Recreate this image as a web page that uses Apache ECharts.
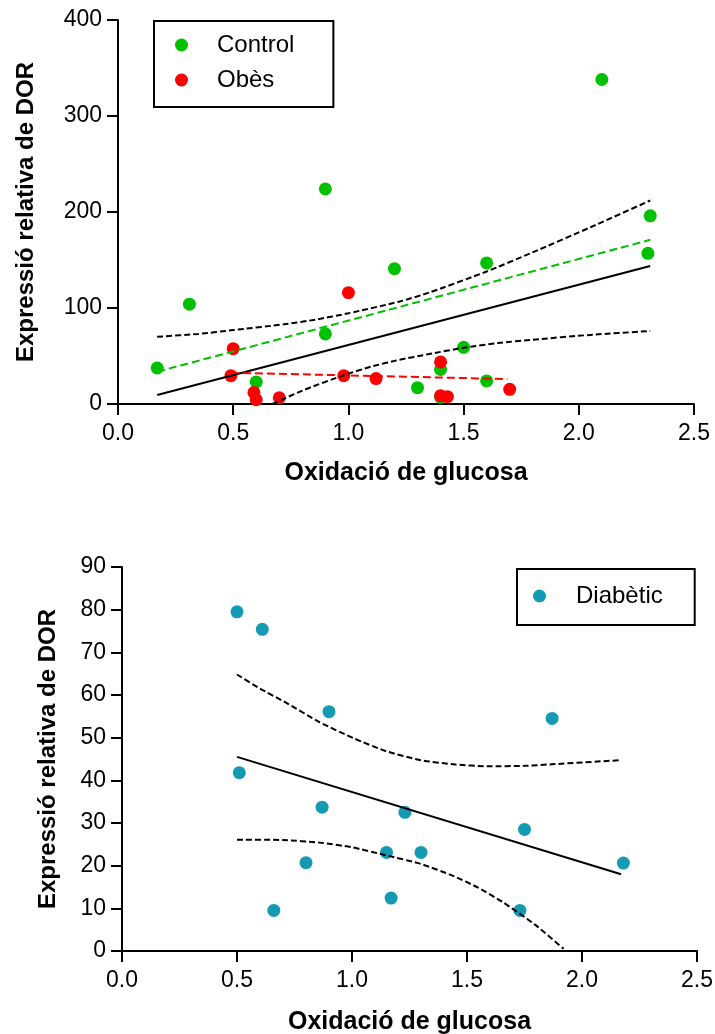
<!DOCTYPE html>
<html>
<head>
<meta charset="utf-8">
<script src="https://cdn.jsdelivr.net/npm/echarts@6/dist/echarts.min.js"></script>
<style>html,body{margin:0;padding:0;background:#fff}#c{width:715px;height:1034px}</style>
</head>
<body>
<div id="c"></div>
<script>
// ---- Top panel data ----
const ctrlX = [0.17, 0.31, 0.60, 0.90, 0.90, 1.20, 1.30, 1.40, 1.40, 1.50, 1.60, 1.60, 2.10, 2.30, 2.31];
const ctrlY = [37.5, 104, 23, 73, 224, 141, 17, 36, 7, 59, 147, 24, 338, 157, 196];
const obX = [0.49, 0.50, 0.59, 0.60, 0.70, 0.98, 1.00, 1.12, 1.40, 1.40, 1.43, 1.70];
const obY = [29.5, 57.6, 12, 4.5, 6.5, 29.5, 116, 26.5, 43.8, 8.7, 7.6, 15.3];
const allFitX = [0.17, 2.31];
const allFitY = [9.4, 143.8];
const ctrlFitX = [0.17, 2.31];
const ctrlFitY = [33.6, 171];
const obFitX = [0.49, 1.69];
const obFitY = [32.6, 26];
const topUpX = [0.17, 0.35, 0.5, 0.72, 0.86, 1.0, 1.22, 1.35, 1.6, 1.8, 2.05, 2.31];
const topUpY = [70, 73, 77, 83, 88, 94.5, 106.6, 116, 138, 158, 184, 212];
const topLoX = [0.67, 0.8, 0.98, 1.1, 1.22, 1.35, 1.5, 1.65, 1.8, 2.05, 2.31];
const topLoY = [0, 14, 30, 39, 46, 52, 58.6, 63.5, 67, 72, 76];
const topYTicks = [0, 100, 200, 300, 400];

// ---- Bottom panel data ----
const diabX = [0.50, 0.51, 0.61, 0.66, 0.80, 0.87, 0.90, 1.15, 1.17, 1.23, 1.30, 1.73, 1.75, 1.87, 2.18];
const diabY = [79.5, 41.8, 75.4, 9.5, 20.7, 33.7, 56.1, 23.1, 12.4, 32.5, 23.1, 9.5, 28.5, 54.5, 20.6];
const diabFitX = [0.50, 2.17];
const diabFitY = [45.5, 18.0];
const botUpX = [0.50, 0.60, 0.72, 0.86, 1.01, 1.15, 1.30, 1.45, 1.59, 1.75, 1.88, 2.16];
const botUpY = [64.8, 61.5, 58.0, 53.6, 49.8, 46.8, 44.7, 43.7, 43.3, 43.4, 43.8, 44.7];
const botLoX = [0.50, 0.70, 0.86, 1.00, 1.15, 1.30, 1.44, 1.55, 1.66, 1.80, 1.92];
const botLoY = [26.1, 26.0, 25.4, 24.3, 22.4, 20.4, 17.6, 14.8, 11.3, 6.0, 0.5];
const botYTicks = [0, 10, 20, 30, 40, 50, 60, 70, 80, 90];

const xTicks = [0, 0.5, 1.0, 1.5, 2.0, 2.5];

const pairs = (xs, ys) => xs.map((x, i) => [x, ys[i]]);
const FONT = 'Liberation Sans, Arial, sans-serif';

function xAxisCfg(gi, gap) {
  return {
    type: 'value', gridIndex: gi,
    min: xTicks[0], max: xTicks[xTicks.length - 1], interval: 0.5,
    name: 'Oxidació de glucosa', nameLocation: 'middle', nameGap: gap,
    nameTextStyle: { fontFamily: FONT, fontSize: 25, fontWeight: 'bold', color: '#000' },
    axisLine: { show: true, onZero: false, lineStyle: { color: '#000', width: 2 } },
    axisTick: { show: true, inside: false, length: 11, lineStyle: { color: '#000', width: 2 } },
    axisLabel: { margin: 18, fontFamily: FONT, fontSize: 23, color: '#000', formatter: v => v.toFixed(1) },
    splitLine: { show: false }
  };
}
function yAxisCfg(gi, ticks, gap) {
  return {
    type: 'value', gridIndex: gi,
    min: ticks[0], max: ticks[ticks.length - 1], interval: ticks[1] - ticks[0],
    name: 'Expressió relativa de DOR', nameLocation: 'middle', nameGap: gap,
    nameTextStyle: { fontFamily: FONT, fontSize: 24, fontWeight: 'bold', color: '#000' },
    axisLine: { show: true, onZero: false, lineStyle: { color: '#000', width: 2 } },
    axisTick: { show: true, inside: false, length: 11, lineStyle: { color: '#000', width: 2 } },
    axisLabel: { margin: 16, fontFamily: FONT, fontSize: 23, color: '#000' },
    splitLine: { show: false }
  };
}
function lineSeries(xi, xs, ys, color, dash, smooth) {
  return {
    type: 'line', xAxisIndex: xi, yAxisIndex: xi,
    data: pairs(xs, ys), showSymbol: false, symbol: 'none', silent: true,
    smooth: smooth ? 0.2 : false, z: 5,
    lineStyle: { color: color, width: 2, type: dash || 'solid' }
  };
}

const chart = echarts.init(document.getElementById('c'), null, { renderer: 'canvas' });
chart.setOption({
  animation: false,
  backgroundColor: '#fff',
  grid: [
    { left: 118, top: 20, width: 576, height: 384, outerBoundsMode: 'none' },
    { left: 122, top: 567, width: 575, height: 384, outerBoundsMode: 'none' }
  ],
  xAxis: [xAxisCfg(0, 57), xAxisCfg(1, 59)],
  yAxis: [yAxisCfg(0, topYTicks, 80), yAxisCfg(1, botYTicks, 62)],
  legend: [
    {
      orient: 'vertical', left: 154, top: 21,
      data: ['Control', 'Obès'],
      icon: 'circle', itemWidth: 13, itemHeight: 13, itemGap: 11,
      padding: [12, 39, 15, 21],
      borderColor: '#000', borderWidth: 2,
      textStyle: { fontFamily: FONT, fontSize: 24, color: '#000', lineHeight: 24, padding: [0, 0, 0, 24] }
    },
    {
      orient: 'vertical', left: 517, top: 569,
      data: ['Diabètic'],
      icon: 'circle', itemWidth: 13, itemHeight: 13,
      padding: [15, 32, 17, 16],
      borderColor: '#000', borderWidth: 2,
      textStyle: { fontFamily: FONT, fontSize: 24, color: '#000', lineHeight: 24, padding: [0, 0, 0, 25] }
    }
  ],
  series: [
    { name: 'Control', type: 'scatter', xAxisIndex: 0, yAxisIndex: 0, data: pairs(ctrlX, ctrlY),
      symbolSize: 13, itemStyle: { color: '#00c000', opacity: 1 }, z: 2 },
    { name: 'Obès', type: 'scatter', xAxisIndex: 0, yAxisIndex: 0, data: pairs(obX, obY),
      symbolSize: 13, itemStyle: { color: '#ff0000', opacity: 1 }, z: 3 },
    lineSeries(0, allFitX, allFitY, '#000', 'solid', false),
    lineSeries(0, ctrlFitX, ctrlFitY, '#00c000', [8, 4], false),
    lineSeries(0, obFitX, obFitY, '#ff0000', [8, 4], false),
    lineSeries(0, topUpX, topUpY, '#000', [6, 3], true),
    lineSeries(0, topLoX, topLoY, '#000', [6, 3], true),

    { name: 'Diabètic', type: 'scatter', xAxisIndex: 1, yAxisIndex: 1, data: pairs(diabX, diabY),
      symbolSize: 13, itemStyle: { color: '#149bb3', opacity: 1 }, z: 2 },
    lineSeries(1, diabFitX, diabFitY, '#000', 'solid', false),
    lineSeries(1, botUpX, botUpY, '#000', [6, 3], true),
    lineSeries(1, botLoX, botLoY, '#000', [6, 3], true)
  ]
});
</script>
</body>
</html>
